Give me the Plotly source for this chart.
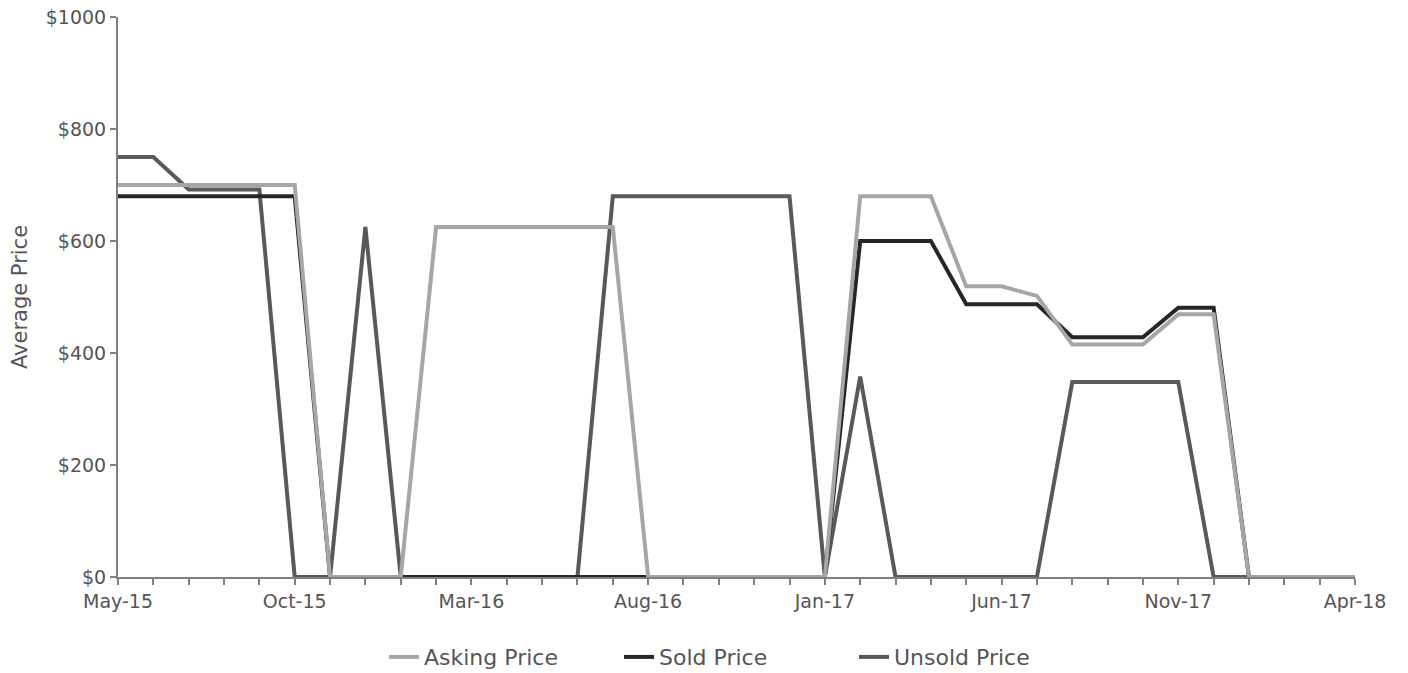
import plotly.graph_objects as go

months = ["May-15", "Jun-15", "Jul-15", "Aug-15", "Sep-15", "Oct-15", "Nov-15", "Dec-15",
          "Jan-16", "Feb-16", "Mar-16", "Apr-16", "May-16", "Jun-16", "Jul-16", "Aug-16",
          "Sep-16", "Oct-16", "Nov-16", "Dec-16", "Jan-17", "Feb-17", "Mar-17", "Apr-17",
          "May-17", "Jun-17", "Jul-17", "Aug-17", "Sep-17", "Oct-17", "Nov-17", "Dec-17",
          "Jan-18", "Feb-18", "Mar-18", "Apr-18"]

asking = [700, 700, 700, 700, 700, 700, 0, 0, 0, 625, 625, 625, 625, 625, 625, 0,
          0, 0, 0, 0, 0, 680, 680, 680, 519, 519, 502, 415, 415, 415, 469, 469,
          0, 0, 0, 0]
sold = [680, 680, 680, 680, 680, 680, 0, 0, 0, 0, 0, 0, 0, 0, 0, 0,
        0, 0, 0, 0, 0, 600, 600, 600, 487, 487, 487, 428, 428, 428, 481, 481,
        0, 0, 0, 0]
unsold = [750, 750, 692, 692, 692, 0, 0, 625, 0, 0, 0, 0, 0, 0, 680, 680,
          680, 680, 680, 680, 0, 358, 0, 0, 0, 0, 0, 348, 348, 348, 348, 0,
          0, 0, 0, 0]

tick_labels = [m if i % 5 == 0 else "" for i, m in enumerate(months)]

FONT = "DejaVu Sans, Liberation Sans, Arial, sans-serif"
TXT = "#555555"

fig = go.Figure()
fig.add_trace(go.Scatter(x=months, y=unsold, mode="lines", name="Unsold Price",
                         line=dict(color="#595959", width=4)))
fig.add_trace(go.Scatter(x=months, y=sold, mode="lines", name="Sold Price",
                         line=dict(color="#262626", width=4)))
fig.add_trace(go.Scatter(x=months, y=asking, mode="lines", name="Asking Price",
                         line=dict(color="#a6a6a6", width=4)))

fig.update_layout(
    width=1408, height=689,
    margin=dict(l=118, r=53, t=17, b=111),
    paper_bgcolor="white", plot_bgcolor="white",
    font=dict(family=FONT, size=19, color=TXT),
    legend=dict(orientation="h", x=0.5, xanchor="center", y=-0.141, yanchor="middle",
                traceorder="reversed", font=dict(size=22, color=TXT),
                entrywidth=190, entrywidthmode="pixels"),
    showlegend=True,
)
fig.update_xaxes(
    type="category", range=[0, 35], automargin=False, ticklabeloverflow="allow",
    tickmode="array", tickvals=months, ticktext=tick_labels,
    ticks="outside", ticklen=6, tickcolor="#7f7f7f", tickwidth=1.5,
    showline=True, linecolor="#7f7f7f", linewidth=2,
    showgrid=False, zeroline=False,
    tickfont=dict(size=19, color=TXT),
)
fig.update_yaxes(
    range=[0, 1000], automargin=False, ticklabeloverflow="allow",
    tickvals=[0, 200, 400, 600, 800, 1000],
    ticktext=["$0", "$200", "$400", "$600", "$800", "$1000"],
    ticks="outside", ticklen=6, tickcolor="#7f7f7f", tickwidth=1.5,
    showline=True, linecolor="#7f7f7f", linewidth=2,
    showgrid=False, zeroline=False,
    title=dict(text="Average Price", font=dict(size=21, color=TXT), standoff=12),
    tickfont=dict(size=19, color=TXT),
)

fig.write_html("out.html", config={"displayModeBar": False},
               post_script="document.body.style.margin='0px';document.body.style.overflow='hidden';")
